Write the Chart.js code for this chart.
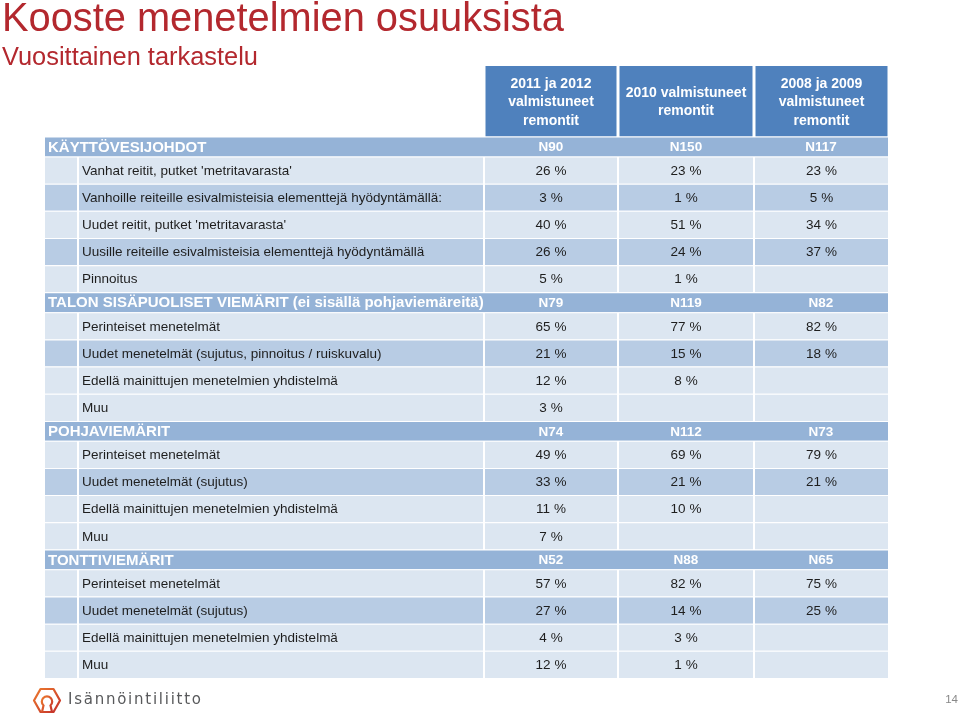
<!DOCTYPE html>
<html>
<head>
<meta charset="utf-8">
<script src="https://cdn.jsdelivr.net/npm/chart.js@4.4.1/dist/chart.umd.min.js"></script>
<style>
  html, body { margin: 0; padding: 0; background: #fff; }
  #page { position: relative; width: 960px; height: 717px; overflow: hidden; font-family: "Liberation Sans", Arial, sans-serif; }
  #chart { position: absolute; left: 0; top: 0; }
  .title { position: absolute; left: 2px; top: -2px; margin: 0; font-weight: normal; font-size: 39.8px; line-height: 1; color: #b3282e; white-space: nowrap; }
  .subtitle { position: absolute; left: 2px; top: 44px; margin: 0; font-weight: normal; font-size: 25.4px; line-height: 1; color: #b3282e; white-space: nowrap; }
  .logo { position: absolute; left: 32px; top: 687px; }
  .brand { position: absolute; left: 68px; top: 692px; font-family: "DejaVu Sans", sans-serif; font-size: 15px; letter-spacing: 1.75px; line-height: 1; color: #58595b; }
  .pageno { position: absolute; right: 2px; top: 694px; font-size: 11.5px; line-height: 1; color: #888; }
</style>
</head>
<body>
<div id="page">
  <canvas id="chart" width="960" height="717"></canvas>
  <h1 class="title">Kooste menetelmien osuuksista</h1>
  <h2 class="subtitle">Vuosittainen tarkastelu</h2>
  <svg class="logo" width="30" height="28" viewBox="0 0 30 28">
    <defs>
      <linearGradient id="lg" x1="0" y1="0" x2="1" y2="1">
        <stop offset="0" stop-color="#ec7a2e"/>
        <stop offset="1" stop-color="#c4302b"/>
      </linearGradient>
    </defs>
    <polygon points="2,13.5 8.5,2 21.5,2 28,13.5 21.5,25 8.5,25" fill="none" stroke="url(#lg)" stroke-width="2.2" stroke-linejoin="round"/>
    <path d="M10,25 L11.5,18.5 A5.2,5.2 0 1 1 18.5,18.5 L20,25" fill="none" stroke="url(#lg)" stroke-width="2.2"/>
  </svg>
  <div class="brand">Isännöintiliitto</div>
  <div class="pageno">14</div>
</div>
<script>
// column headers
const yearColumns = ['2011 ja 2012\nvalmistuneet\nremontit', '2010 valmistuneet\nremontit', '2008 ja 2009\nvalmistuneet\nremontit'];

// section titles and sample sizes (N)
const sectionTitles = ['KÄYTTÖVESIJOHDOT', 'TALON SISÄPUOLISET VIEMÄRIT (ei sisällä pohjaviemäreitä)', 'POHJAVIEMÄRIT', 'TONTTIVIEMÄRIT'];
const sectionN = [[90, 150, 117], [79, 119, 82], [74, 112, 73], [52, 88, 65]];

// shares (%) per method, columns in the order of yearColumns
const kayttovesiMethods = ["Vanhat reitit, putket 'metritavarasta'", 'Vanhoille reiteille esivalmisteisia elementtejä hyödyntämällä:', "Uudet reitit, putket 'metritavarasta'", 'Uusille reiteille esivalmisteisia elementtejä hyödyntämällä', 'Pinnoitus'];
const kayttovesiShares = [[26, 23, 23], [3, 1, 5], [40, 51, 34], [26, 24, 37], [5, 1, null]];

const sisaviemaritMethods = ['Perinteiset menetelmät', 'Uudet menetelmät (sujutus, pinnoitus / ruiskuvalu)', 'Edellä mainittujen menetelmien yhdistelmä', 'Muu'];
const sisaviemaritShares = [[65, 77, 82], [21, 15, 18], [12, 8, null], [3, null, null]];

const pohjaviemaritMethods = ['Perinteiset menetelmät', 'Uudet menetelmät (sujutus)', 'Edellä mainittujen menetelmien yhdistelmä', 'Muu'];
const pohjaviemaritShares = [[49, 69, 79], [33, 21, 21], [11, 10, null], [7, null, null]];

const tonttiviemaritMethods = ['Perinteiset menetelmät', 'Uudet menetelmät (sujutus)', 'Edellä mainittujen menetelmien yhdistelmä', 'Muu'];
const tonttiviemaritShares = [[57, 82, 75], [27, 14, 25], [4, 3, null], [12, 1, null]];

const sectionMethods = [kayttovesiMethods, sisaviemaritMethods, pohjaviemaritMethods, tonttiviemaritMethods];
const sectionShares = [kayttovesiShares, sisaviemaritShares, pohjaviemaritShares, tonttiviemaritShares];

// table layout (styling only)
const colEdges = [44, 78, 484, 618, 754, 889];     // indent | label | three year columns
const rowUnits = { head: 39, section: 11, row: 15 }; // row heights in y-category units
const rowBands = [[0, 1, 0, 1, 0], [0, 1, 0, 0], [0, 1, 0, 0], [0, 1, 0, 0]];
const bandColors = ['#dce6f1', '#b8cce4'];
const headColor = '#4f81bd';
const sectionColor = '#95b3d7';

// build cells on a category y axis of small units
const headCells = [], sectionTitleCells = [], sectionNCells = [];
const indentCells = [], labelCells = [], valueCells = [];
let u = 0;

yearColumns.forEach((txt, j) => {
    headCells.push({ x: [colEdges[2 + j], colEdges[3 + j]], y: u + (rowUnits.head - 1) / 2, t: txt });
});
u += rowUnits.head;

sectionTitles.forEach((title, s) => {
    const cy = u + (rowUnits.section - 1) / 2;
    sectionTitleCells.push({ x: [colEdges[0] + 1, colEdges[2]], y: cy, t: title });
    sectionN[s].forEach((n, j) => {
        sectionNCells.push({ x: [colEdges[2 + j], j === 2 ? colEdges[5] - 1 : colEdges[3 + j]], y: cy, t: 'N' + n });
    });
    u += rowUnits.section;

    sectionMethods[s].forEach((method, r) => {
        const ry = u + (rowUnits.row - 1) / 2;
        const bg = bandColors[rowBands[s][r]];
        indentCells.push({ x: [colEdges[0], colEdges[1]], y: ry, bg });
        labelCells.push({ x: [colEdges[1], colEdges[2]], y: ry, t: method, bg });
        sectionShares[s][r].forEach((v, j) => {
            valueCells.push({ x: [colEdges[2 + j], colEdges[3 + j]], y: ry, t: v == null ? '' : v + ' %', bg });
        });
        u += rowUnits.row;
    });
});

const unitLabels = Array.from({ length: u }, (_, i) => i);

const cellText = {
    id: 'cellText',
    afterDatasetsDraw(chart) {
        const ctx = chart.ctx;
        chart.data.datasets.forEach((ds, di) => {
            if (!ds.textFont) return;
            const meta = chart.getDatasetMeta(di);
            meta.data.forEach((bar, i) => {
                const txt = ds.data[i].t;
                if (!txt) return;
                const p = bar.getProps(['x', 'y', 'base'], true);
                const left = Math.min(p.x, p.base), right = Math.max(p.x, p.base);
                const lines = txt.split('\n');
                ctx.save();
                ctx.font = ds.textFont;
                ctx.fillStyle = ds.textColor;
                ctx.textBaseline = 'middle';
                lines.forEach((line, k) => {
                    const ly = p.y + (k - (lines.length - 1) / 2) * (ds.lineHeight || 0) + 1;
                    if (ds.textAlign === 'left') {
                        ctx.textAlign = 'left';
                        ctx.fillText(line, left + ds.textPad, ly);
                    } else {
                        ctx.textAlign = 'center';
                        ctx.fillText(line, (left + right) / 2, ly);
                    }
                });
                ctx.restore();
            });
        });
    }
};

const font = '"Liberation Sans", Arial, sans-serif';
const dataBorder = { top: 1, left: 1, right: 1, bottom: 0 };

new Chart(document.getElementById('chart'), {
    type: 'bar',
    data: {
        labels: unitLabels,
        datasets: [
            {
                data: headCells, backgroundColor: headColor, categoryPercentage: rowUnits.head,
                borderWidth: { top: 0, bottom: 0, left: 1.5, right: 1.5 },
                textFont: 'bold 14px ' + font, textColor: '#ffffff', lineHeight: 18.5
            },
            {
                data: sectionTitleCells, backgroundColor: sectionColor, categoryPercentage: rowUnits.section,
                borderWidth: { top: 1, bottom: 0, left: 0, right: 0 },
                textFont: 'bold 15px ' + font, textColor: '#ffffff', textAlign: 'left', textPad: 3
            },
            {
                data: sectionNCells, backgroundColor: sectionColor, categoryPercentage: rowUnits.section,
                borderWidth: { top: 1, bottom: 0, left: 0, right: 0 },
                textFont: 'bold 13.5px ' + font, textColor: '#ffffff'
            },
            {
                data: indentCells, backgroundColor: indentCells.map(c => c.bg), categoryPercentage: rowUnits.row,
                borderWidth: dataBorder
            },
            {
                data: labelCells, backgroundColor: labelCells.map(c => c.bg), categoryPercentage: rowUnits.row,
                borderWidth: dataBorder,
                textFont: '13.5px ' + font, textColor: '#1e1e1e', textAlign: 'left', textPad: 4
            },
            {
                data: valueCells, backgroundColor: valueCells.map(c => c.bg), categoryPercentage: rowUnits.row,
                borderWidth: dataBorder,
                textFont: '13.5px ' + font, textColor: '#1e1e1e'
            }
        ]
    },
    options: {
        indexAxis: 'y',
        responsive: false,
        animation: false,
        events: [],
        datasets: {
            bar: { grouped: false, barPercentage: 1, borderSkipped: false, borderColor: '#ffffff', inflateAmount: 0 }
        },
        layout: { padding: { left: colEdges[0], right: 960 - colEdges[5], top: 66, bottom: 39 } },
        scales: {
            x: { type: 'linear', min: colEdges[0], max: colEdges[5], display: false },
            y: { type: 'category', offset: true, display: false, ticks: { display: false, autoSkip: false } }
        },
        plugins: {
            legend: { display: false },
            tooltip: { enabled: false }
        }
    },
    plugins: [cellText]
});
</script>
</body>
</html>
